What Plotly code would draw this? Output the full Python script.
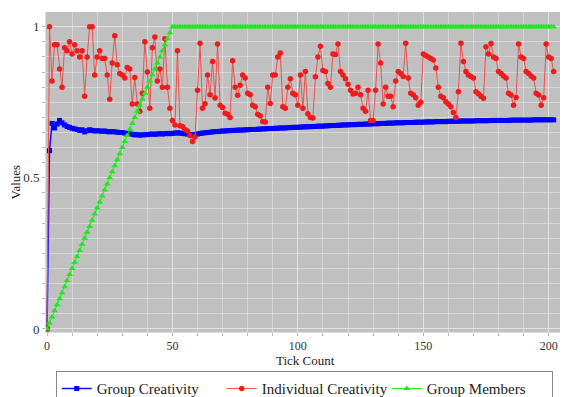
import plotly.graph_objects as go

ticks = list(range(203))

group_creativity = [
    0.0, 0.59, 0.68, 0.665, 0.678, 0.69, 0.682, 0.675, 0.67, 0.667,
    0.664, 0.662, 0.66, 0.657, 0.659, 0.652, 0.656, 0.659, 0.657, 0.655,
    0.656, 0.655, 0.654, 0.655, 0.653, 0.652, 0.653, 0.652, 0.651, 0.65,
    0.65, 0.648, 0.646, 0.645, 0.644, 0.642, 0.643, 0.641, 0.642, 0.643,
    0.643, 0.644, 0.645, 0.644, 0.645, 0.646, 0.645, 0.646, 0.647, 0.646,
    0.647, 0.648, 0.649, 0.648, 0.647, 0.646, 0.645, 0.643, 0.642, 0.643,
    0.645, 0.647, 0.648, 0.649, 0.65, 0.651, 0.652, 0.653, 0.653, 0.654,
    0.655, 0.655, 0.656, 0.656, 0.657, 0.657, 0.658, 0.658, 0.658, 0.659,
    0.659, 0.66, 0.66, 0.66, 0.661, 0.661, 0.662, 0.662, 0.663, 0.663,
    0.663, 0.664, 0.664, 0.665, 0.665, 0.665, 0.666, 0.666, 0.667, 0.667,
    0.667, 0.668, 0.668, 0.669, 0.669, 0.669, 0.67, 0.67, 0.671, 0.671,
    0.671, 0.672, 0.672, 0.673, 0.673, 0.673, 0.674, 0.674, 0.675, 0.675,
    0.675, 0.676, 0.676, 0.676, 0.677, 0.677, 0.677, 0.678, 0.678, 0.678,
    0.679, 0.679, 0.679, 0.68, 0.68, 0.68, 0.681, 0.681, 0.681, 0.682,
    0.682, 0.682, 0.682, 0.683, 0.683, 0.683, 0.683, 0.684, 0.684, 0.684,
    0.684, 0.685, 0.685, 0.685, 0.685, 0.686, 0.686, 0.686, 0.686, 0.686,
    0.687, 0.687, 0.687, 0.687, 0.687, 0.688, 0.688, 0.688, 0.688, 0.688,
    0.688, 0.689, 0.689, 0.689, 0.689, 0.689, 0.689, 0.69, 0.69, 0.69,
    0.69, 0.69, 0.69, 0.69, 0.69, 0.691, 0.691, 0.691, 0.691, 0.691,
    0.691, 0.691, 0.691, 0.691, 0.692, 0.692, 0.692, 0.692, 0.692, 0.692,
    0.692, 0.692, 0.692,
]

individual_creativity = [
    0.0, 1.0, 0.82, 0.94, 0.94, 0.86, 0.80, 0.93, 0.92, 0.95,
    0.91, 0.94, 0.92, 0.90, 0.92, 0.77, 0.90, 1.0, 1.0, 0.84,
    0.90, 0.92, 0.895, 0.895, 0.84, 0.76, 0.88, 0.97, 0.874, 0.845,
    0.84, 0.83, 0.865, 0.86, 0.744, 0.832, 0.744, 0.72, 0.78, 0.95,
    0.85, 0.73, 0.93, 0.966, 0.82, 0.86, 0.80, 0.96, 0.80, 0.73,
    0.69, 0.675, 0.92, 0.672, 0.67, 0.66, 0.655, 0.64, 0.62, 0.635,
    0.79, 0.945, 0.73, 0.745, 0.84, 0.775, 0.885, 0.764, 0.943, 0.74,
    0.733, 0.714, 0.71, 0.70, 0.887, 0.80, 0.773, 0.806, 0.84, 0.83,
    0.78, 0.775, 0.74, 0.735, 0.71, 0.705, 0.686, 0.685, 0.80, 0.746,
    0.84, 0.84, 0.90, 0.913, 0.735, 0.73, 0.80, 0.828, 0.78, 0.775,
    0.74, 0.84, 0.73, 0.852, 0.712, 0.70, 0.698, 0.834, 0.90, 0.935,
    0.855, 0.852, 0.812, 0.80, 0.91, 0.908, 0.943, 0.852, 0.84, 0.828,
    0.81, 0.79, 0.777, 0.78, 0.80, 0.775, 0.73, 0.72, 0.79, 0.69,
    0.69, 0.79, 0.943, 0.88, 0.744, 0.80, 0.77, 0.77, 0.735, 0.82,
    0.852, 0.845, 0.835, 0.945, 0.83, 0.78, 0.775, 0.765, 0.74, 0.75,
    0.91, 0.905, 0.90, 0.895, 0.89, 0.863, 0.80, 0.77, 0.765, 0.752,
    0.744, 0.735, 0.716, 0.70, 0.785, 0.945, 0.885, 0.852, 0.84, 0.835,
    0.83, 0.785, 0.778, 0.77, 0.763, 0.934, 0.91, 0.944, 0.90, 0.895,
    0.852, 0.845, 0.837, 0.83, 0.78, 0.774, 0.74, 0.766, 0.943, 0.90,
    0.895, 0.852, 0.845, 0.837, 0.83, 0.78, 0.774, 0.74, 0.765, 0.943,
    0.90, 0.895, 0.852,
]

group_members = [
    0.0, 0.02, 0.04, 0.06, 0.08, 0.10, 0.12, 0.14, 0.16, 0.18,
    0.20, 0.22, 0.24, 0.26, 0.28, 0.30, 0.32, 0.34, 0.36, 0.38,
    0.40, 0.42, 0.44, 0.46, 0.48, 0.50, 0.52, 0.54, 0.56, 0.58,
    0.60, 0.62, 0.64, 0.66, 0.68, 0.70, 0.72, 0.74, 0.76, 0.78,
    0.80, 0.82, 0.84, 0.86, 0.88, 0.90, 0.92, 0.94, 0.96, 0.98,
    1.0, 1.0, 1.0, 1.0, 1.0, 1.0, 1.0, 1.0, 1.0, 1.0,
    1.0, 1.0, 1.0, 1.0, 1.0, 1.0, 1.0, 1.0, 1.0, 1.0,
    1.0, 1.0, 1.0, 1.0, 1.0, 1.0, 1.0, 1.0, 1.0, 1.0,
    1.0, 1.0, 1.0, 1.0, 1.0, 1.0, 1.0, 1.0, 1.0, 1.0,
    1.0, 1.0, 1.0, 1.0, 1.0, 1.0, 1.0, 1.0, 1.0, 1.0,
    1.0, 1.0, 1.0, 1.0, 1.0, 1.0, 1.0, 1.0, 1.0, 1.0,
    1.0, 1.0, 1.0, 1.0, 1.0, 1.0, 1.0, 1.0, 1.0, 1.0,
    1.0, 1.0, 1.0, 1.0, 1.0, 1.0, 1.0, 1.0, 1.0, 1.0,
    1.0, 1.0, 1.0, 1.0, 1.0, 1.0, 1.0, 1.0, 1.0, 1.0,
    1.0, 1.0, 1.0, 1.0, 1.0, 1.0, 1.0, 1.0, 1.0, 1.0,
    1.0, 1.0, 1.0, 1.0, 1.0, 1.0, 1.0, 1.0, 1.0, 1.0,
    1.0, 1.0, 1.0, 1.0, 1.0, 1.0, 1.0, 1.0, 1.0, 1.0,
    1.0, 1.0, 1.0, 1.0, 1.0, 1.0, 1.0, 1.0, 1.0, 1.0,
    1.0, 1.0, 1.0, 1.0, 1.0, 1.0, 1.0, 1.0, 1.0, 1.0,
    1.0, 1.0, 1.0, 1.0, 1.0, 1.0, 1.0, 1.0, 1.0, 1.0,
    1.0, 1.0, 1.0,
]

x_tick_vals = [0, 50, 100, 150, 200]
y_tick_vals = [0, 0.5, 1]
y_tick_text = ["0", "0.5", "1"]

FONT = "Liberation Serif"

fig = go.Figure()
fig.add_trace(go.Scatter(
    x=ticks, y=group_creativity, name="Group Creativity", mode="lines+markers",
    line=dict(color="#1010ff", width=1.5),
    marker=dict(symbol="square", size=5, color="#0000ff"),
))
fig.add_trace(go.Scatter(
    x=ticks, y=individual_creativity, name="Individual Creativity", mode="lines+markers",
    line=dict(color="#f05050", width=1),
    marker=dict(symbol="circle", size=5.5, color="#ee1c1c"),
))
fig.add_trace(go.Scatter(
    x=ticks, y=group_members, name="Group Members", mode="lines+markers",
    line=dict(color="#22e822", width=1),
    marker=dict(symbol="triangle-up", size=6, color="#1ee81e"),
))

grid = "rgba(235,235,235,0.5)"
# page body has an 8px default margin, so the figure is 560x389
fig.update_layout(
    width=560, height=389,
    margin=dict(l=38, r=3, t=4, b=65, autoexpand=False),
    paper_bgcolor="white",
    plot_bgcolor="#c0c0c0",
    font=dict(family=FONT, size=12, color="#333333"),
    showlegend=True,
    legend=dict(
        orientation="h", xref="container", x=0.529, xanchor="center",
        yref="container", y=0.066, yanchor="top",
        bordercolor="#888888", borderwidth=1, bgcolor="white",
        font=dict(family=FONT, size=15, color="#222222"),
        entrywidth=120, entrywidthmode="pixels",
        tracegroupgap=0,
    ),
    xaxis=dict(
        range=[-0.4, 206.5], tickvals=x_tick_vals, ticks="outside", ticklen=3,
        tickcolor="#bbbbbb", showgrid=True, gridcolor=grid, gridwidth=1,
        minor=dict(dtick=10, tick0=0, showgrid=True, gridcolor=grid, ticks="outside",
                   ticklen=3, tickcolor="#bbbbbb"),
        showline=True, linecolor="#dddddd", linewidth=1, zeroline=False,
        automargin=False,
        tickfont=dict(family=FONT, size=12, color="#333333"),
    ),
    yaxis=dict(
        range=[-0.01, 1.0486], tickvals=y_tick_vals, ticktext=y_tick_text,
        ticks="outside", ticklen=3, tickcolor="#bbbbbb",
        showgrid=True, gridcolor=grid, gridwidth=1,
        minor=dict(dtick=0.05, tick0=0, showgrid=True, gridcolor=grid, ticks="outside",
                   ticklen=3, tickcolor="#bbbbbb"),
        showline=True, linecolor="#dddddd", linewidth=1, zeroline=False,
        automargin=False,
        tickfont=dict(family=FONT, size=13, color="#333333"),
    ),
    annotations=[
        dict(text="Tick Count", xref="paper", yref="paper", x=0.5, y=-0.09,
             xanchor="center", yanchor="middle", showarrow=False,
             font=dict(family=FONT, size=13, color="#222222")),
        dict(text="Values", xref="paper", yref="paper", x=-0.058, y=0.47,
             xanchor="center", yanchor="middle", showarrow=False, textangle=-90,
             font=dict(family=FONT, size=13, color="#222222")),
    ],
)

fig.write_html("out.html")
